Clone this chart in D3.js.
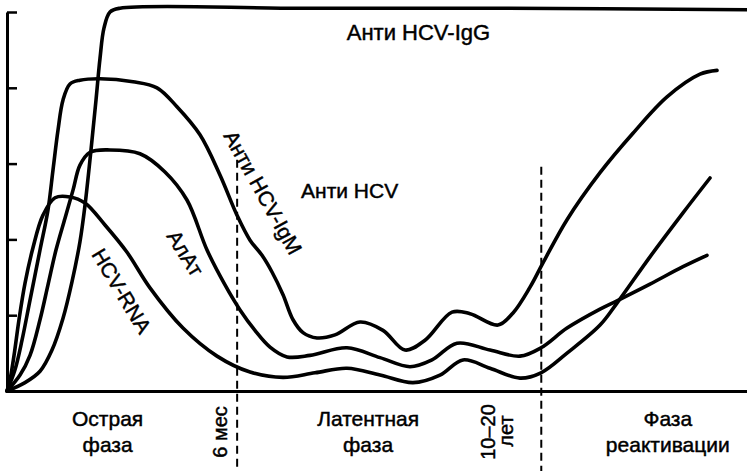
<!DOCTYPE html>
<html><head><meta charset="utf-8">
<script src="https://cdn.jsdelivr.net/npm/d3@7"></script>
<style>
body{margin:0;background:#fff}
svg{display:block}
text{font-family:"Liberation Sans",Arial,Helvetica,sans-serif;fill:#000;stroke:#000;stroke-width:0.45px}
</style>
</head><body>
<svg id="c" width="747" height="471"></svg>
<script>
// ---- Data (time: 0–100 relative units, level: 0–5 relative units) ----
const igG_t = [0, 2.43, 4.46, 6.08, 7.57, 8.78, 9.86, 10.54, 11.35, 12.03, 12.57, 13.11, 13.92, 15.27, 39.6, 66.6, 100];
const igG_v = [0, 0.11, 0.26, 0.54, 0.96, 1.44, 1.97, 2.45, 3.18, 3.84, 4.39, 4.79, 5.0, 5.05, 5.05, 5.05, 5.03];

const igM_t = [0, 1.08, 2.03, 3.11, 4.46, 5.54, 6.22, 6.89, 7.57, 8.51, 9.86, 12.57, 17.03, 20.27, 22.97, 26.08, 28.78, 31.08, 32.84, 34.46, 35.81, 37.3, 38.65, 40.0, 41.89, 44.32, 47.7, 50.81, 53.78, 56.49, 60.14, 62.57, 66.35, 68.38, 70.68, 72.43, 75.68, 80.14, 84.59, 89.19, 93.65, 95.95];
const igM_v = [0, 0.28, 0.67, 1.20, 1.86, 2.39, 2.92, 3.44, 3.84, 4.05, 4.10, 4.12, 4.08, 4.00, 3.75, 3.38, 2.85, 2.32, 1.99, 1.79, 1.57, 1.27, 0.94, 0.77, 0.70, 0.74, 0.91, 0.80, 0.54, 0.67, 1.04, 1.02, 0.87, 1.03, 1.37, 1.69, 2.26, 2.88, 3.40, 3.88, 4.18, 4.23];

const alt_t = [0, 1.76, 3.11, 4.46, 5.54, 6.62, 7.84, 8.92, 9.86, 11.22, 13.92, 17.97, 21.35, 24.32, 27.03, 29.46, 31.49, 33.51, 35.54, 37.84, 40.95, 45.95, 50.41, 54.46, 57.43, 60.81, 65.27, 69.32, 72.16, 75.68, 80.14, 82.43, 86.89, 91.35, 94.59];
const alt_v = [0, 0.21, 0.47, 0.94, 1.40, 1.86, 2.28, 2.65, 2.98, 3.15, 3.18, 3.13, 2.89, 2.52, 1.86, 1.40, 1.07, 0.80, 0.58, 0.45, 0.47, 0.57, 0.44, 0.32, 0.41, 0.63, 0.54, 0.46, 0.57, 0.83, 1.08, 1.19, 1.41, 1.64, 1.79];

const rna_t = [0, 0.41, 0.95, 1.62, 2.43, 3.51, 4.86, 6.49, 8.51, 10.54, 13.24, 16.22, 19.32, 23.78, 28.38, 32.84, 37.3, 41.62, 45.95, 50.41, 54.86, 58.51, 61.62, 65.27, 69.32, 72.16, 75.68, 80.14, 82.43, 86.89, 91.35, 95.0];
const rna_v = [0, 0.15, 0.47, 0.94, 1.42, 1.89, 2.32, 2.55, 2.56, 2.48, 2.19, 1.83, 1.36, 0.83, 0.46, 0.25, 0.18, 0.24, 0.30, 0.21, 0.11, 0.21, 0.41, 0.30, 0.17, 0.24, 0.50, 0.87, 1.16, 1.77, 2.35, 2.81];

const yTicks = [1, 2, 3, 4, 5];
const phaseBounds = [31.1, 72.2];
const boundLabels = [["6 мес"], ["10–20", "лет"]];
const phaseCenters = [13.6, 48.8, 89.3];
const phaseLabels = [["Острая", "фаза"], ["Латентная", "фаза"], ["Фаза", "реактивации"]];

const series = [
  {name: "Анти HCV-IgG", t: igG_t, v: igG_v},
  {name: "Анти HCV-IgM", t: igM_t, v: igM_v},
  {name: "АлАт", t: alt_t, v: alt_v},
  {name: "HCV-RNA", t: rna_t, v: rna_v}
];

// ---- Layout ----
const W = 747, H = 471;
const svg = d3.select("#c");
const x = d3.scaleLinear().domain([0, 100]).range([7, 747]);
const y = d3.scaleLinear().domain([0, 5]).range([391, 12]);

// dashed phase separators
svg.append("g").selectAll("line").data(phaseBounds).join("line")
  .attr("x1", d => x(d)).attr("x2", d => x(d))
  .attr("y1", (d, i) => y(i === 0 ? 3.05 : 2.96)).attr("y2", H)
  .attr("stroke", "#000").attr("stroke-width", 2).attr("stroke-dasharray", "8,5");

// axes
const yAxis = svg.append("g").attr("transform", `translate(${x(0)},0)`)
  .call(d3.axisRight(y).tickValues(yTicks).tickSize(10).tickSizeOuter(0).tickFormat(""));
yAxis.select(".domain").attr("stroke-width", 3);
yAxis.selectAll(".tick line").attr("stroke-width", 2.5);

const xAxis = svg.append("g").attr("transform", `translate(0,${y(0)})`)
  .call(d3.axisBottom(x).tickValues(phaseBounds).tickSize(0).tickSizeOuter(0).tickFormat(""));
xAxis.select(".domain").attr("stroke-width", 3);

// curves
const line = d3.line().x(d => x(d[0])).y(d => y(d[1])).curve(d3.curveCatmullRom.alpha(0.5));
svg.append("g").selectAll("path").data(series).join("path")
  .attr("d", s => line(s.t.map((t, i) => [t, s.v[i]])))
  .attr("fill", "none").attr("stroke", "#000").attr("stroke-width", 3.6)
  .attr("stroke-linejoin", "round").attr("stroke-linecap", "round");

// curve labels
const notes = [
  {text: "Анти HCV-IgG", t: 55.6, v: 4.73, a: 0, size: 22},
  {text: "Анти HCV", t: 46.3, v: 2.65, a: 0, size: 21},
  {text: "Анти HCV-IgM", t: 34.6, v: 2.62, a: 61, size: 21},
  {text: "АлАт", t: 24.1, v: 1.82, a: 58, size: 21},
  {text: "HCV-RNA", t: 15.5, v: 1.32, a: 59, size: 21}
];
svg.append("g").selectAll("text").data(notes).join("text")
  .attr("transform", d => `translate(${x(d.t)},${y(d.v)}) rotate(${d.a})`)
  .attr("text-anchor", "middle").attr("dominant-baseline", "central")
  .attr("font-size", d => d.size).text(d => d.text);

// phase labels
const pg = svg.append("g");
phaseLabels.forEach((lines, i) => {
  lines.forEach((s, j) => {
    pg.append("text").attr("x", x(phaseCenters[i])).attr("y", 418 + j * 26)
      .attr("text-anchor", "middle").attr("dominant-baseline", "central")
      .attr("font-size", 21).text(s);
  });
});

// boundary labels (rotated)
const boundOffsets = [[-17], [-53, -35]];
const bg = svg.append("g");
boundLabels.forEach((lines, i) => {
  const bx = x(phaseBounds[i]);
  lines.forEach((s, j) => {
    bg.append("text")
      .attr("transform", `translate(${bx + boundOffsets[i][j]},${j === 1 ? 431 : 432}) rotate(-90)`)
      .attr("text-anchor", "middle").attr("dominant-baseline", "central")
      .attr("font-size", 20).text(s);
  });
});
</script>
</body></html>
